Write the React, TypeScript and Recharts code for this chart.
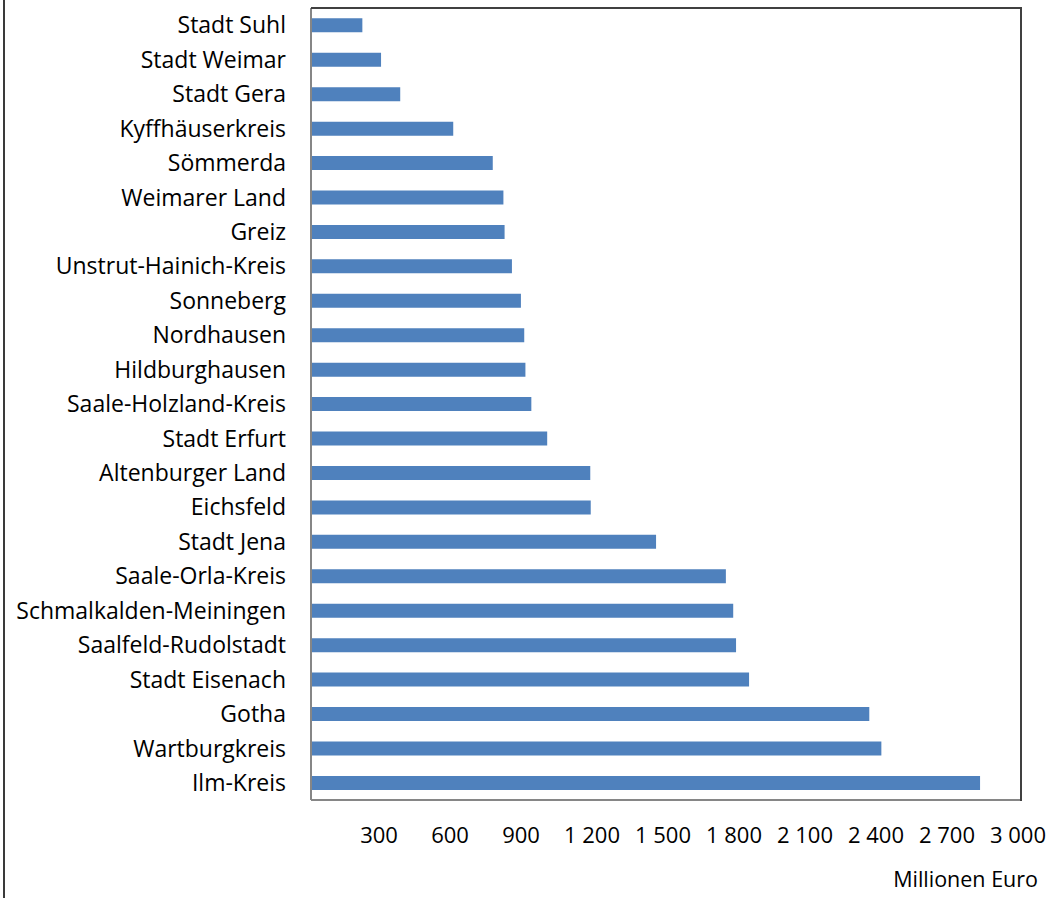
import { BarChart, Bar, XAxis, YAxis } from "recharts"

const regions = [
  "Stadt Suhl",
  "Stadt Weimar",
  "Stadt Gera",
  "Kyffhäuserkreis",
  "Sömmerda",
  "Weimarer Land",
  "Greiz",
  "Unstrut-Hainich-Kreis",
  "Sonneberg",
  "Nordhausen",
  "Hildburghausen",
  "Saale-Holzland-Kreis",
  "Stadt Erfurt",
  "Altenburger Land",
  "Eichsfeld",
  "Stadt Jena",
  "Saale-Orla-Kreis",
  "Schmalkalden-Meiningen",
  "Saalfeld-Rudolstadt",
  "Stadt Eisenach",
  "Gotha",
  "Wartburgkreis",
  "Ilm-Kreis",
]

const values = [
  217, 296, 377, 601, 768, 813, 818, 849, 887, 901, 906, 931, 998, 1180, 1182,
  1458, 1753, 1784, 1796, 1851, 2359, 2410, 2827,
]

const xTicks = [300, 600, 900, 1200, 1500, 1800, 2100, 2400, 2700, 3000]

const data = regions.map((name, i) => ({ name, value: values[i] }))

const fmt = (v: number) => String(v).replace(/\B(?=(\d{3})+(?!\d))/g, " ")

const font = "'Open Sans', sans-serif"

export default function App() {
  return (
    <div
      style={{
        position: "absolute",
        left: 0,
        top: 0,
        width: 1052,
        height: 898,
        background: "#fff",
        fontFamily: font,
      }}
    >
      <div
        style={{
          position: "absolute",
          left: 3,
          top: 0,
          width: 2,
          height: 898,
          background: "#3a3a3a",
        }}
      />
      <BarChart
        layout="vertical"
        width={1052}
        height={898}
        data={data}
        margin={{ top: 8, right: 31, bottom: 0, left: 0 }}
        barCategoryGap="30%"
      >
        <XAxis
          type="number"
          domain={[0, 3000]}
          ticks={xTicks}
          tickFormatter={fmt}
          height={98}
          tickLine={false}
          tickSize={0}
          tickMargin={27}
          axisLine={{ stroke: "#868686", strokeWidth: 2 }}
          tick={{ fill: "#000", fontSize: 22, fontFamily: font, dx: -3 }}
          interval={0}
        />
        <YAxis
          type="category"
          dataKey="name"
          width={311}
          tickLine={false}
          tickSize={0}
          tickMargin={25}
          interval={0}
          axisLine={{ stroke: "#868686", strokeWidth: 2 }}
          tick={{ fill: "#000", fontSize: 23, fontFamily: font }}
        />
        <Bar dataKey="value" fill="#4f81bd" isAnimationActive={false} />
      </BarChart>
      {/* plot area frame, top and right edges */}
      <div
        style={{
          position: "absolute",
          left: 311,
          top: 7,
          width: 709,
          height: 792,
          borderTop: "2px solid #404040",
          borderRight: "2px solid #404040",
          pointerEvents: "none",
        }}
      />
      <div
        style={{
          position: "absolute",
          right: 14,
          top: 866,
          fontSize: 21.5,
          color: "#000",
          lineHeight: "26px",
          whiteSpace: "nowrap",
        }}
      >
        Millionen Euro
      </div>
    </div>
  )
}
